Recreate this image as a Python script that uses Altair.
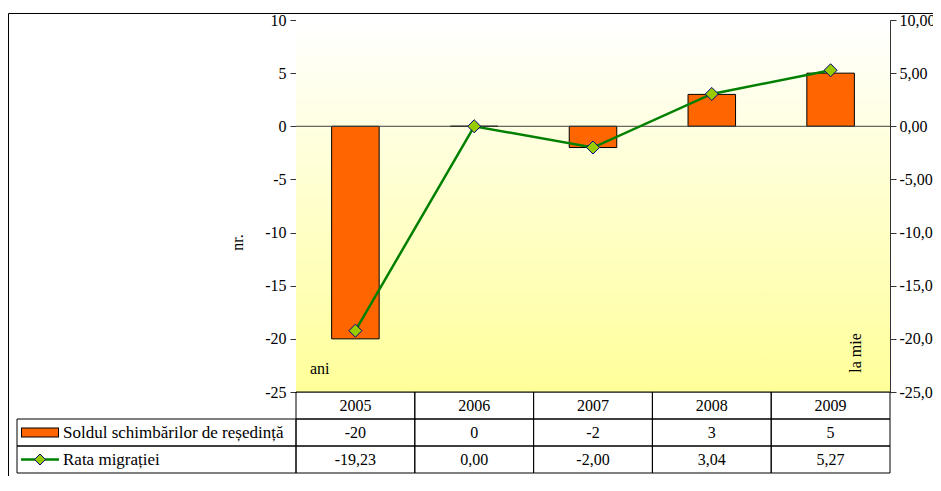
import altair as alt
import pandas as pd

# ---- data ----
years = ["2005", "2006", "2007", "2008", "2009"]
sold = [-20, 0, -2, 3, 5]
rata = [-19.23, 0.00, -2.00, 3.04, 5.27]
series_names = ["Soldul schimbărilor de reședință", "Rata migrației"]
left_ticks = [-25, -20, -15, -10, -5, 0, 5, 10]
y_title_left = "nr."
x_title = "ani"
y_title_right = "la mie"

FONT = "'Liberation Serif', 'Times New Roman', serif"
FS = 16
W, H = 594, 372
ROWS = ["r0", "r1", "r2"]
TAB_TOP, TAB_BOT = H, H + 81

df = pd.DataFrame({"year": years, "sold": sold, "rata": rata})

tab_rows = []
for y, s, r in zip(years, sold, rata):
    tab_rows.append({"year": y, "row": "r0", "label": y})
    tab_rows.append({"year": y, "row": "r1", "label": str(s)})
    tab_rows.append({"year": y, "row": "r2", "label": f"{r:.2f}".replace(".", ",")})
tdf = pd.DataFrame(tab_rows)

ldf = pd.DataFrame({"row": ["r1", "r2"], "label": series_names})

xscale = alt.Scale(domain=years, paddingInner=0, paddingOuter=0)


def row_y():
    return alt.Y("row:N", scale=alt.Scale(domain=ROWS, range=[TAB_TOP, TAB_BOT],
                                          paddingInner=0, paddingOuter=0), axis=None)


one = alt.Data(values=[{}])

bg = alt.Chart(one).mark_rect(
    color=alt.LinearGradient(
        gradient="linear",
        stops=[alt.GradientStop(color="#FFFFFF", offset=0),
               alt.GradientStop(color="#FFFF99", offset=1)],
        x1=0, x2=0, y1=0, y2=1)
).encode(x=alt.value(0), x2=alt.value(W), y=alt.value(0), y2=alt.value(H))

frame = alt.Chart(one).mark_rect(filled=False, stroke="black", strokeWidth=1).encode(
    x=alt.value(-287.5), x2=alt.value(800), y=alt.value(-6.5), y2=alt.value(700))

bars = alt.Chart(df).mark_bar(color="#FF6600", stroke="black", strokeWidth=1,
                              width=alt.RelativeBandSize(0.4)).encode(
    x=alt.X("year:N", scale=xscale, axis=None),
    y=alt.Y("sold:Q", scale=alt.Scale(domain=[-25, 10], nice=False, zero=False),
            axis=alt.Axis(values=left_ticks, title=y_title_left, grid=False,
                          labelExpr="toString(datum.value)",
                          labelFont=FONT, labelFontSize=FS, labelColor="black",
                          labelPadding=4, tickSize=6, tickColor="#333", domainColor="#333",
                          titleFont=FONT, titleFontSize=FS, titleFontWeight="normal",
                          titleColor="black", titleX=-59, titleY=222,
                          titleAlign="center", titleBaseline="middle")),
)
zero = alt.Chart(one).mark_rule(color="#404040", strokeWidth=1).encode(y=alt.datum(0))
left = alt.layer(bars, zero)

line = alt.Chart(df).mark_line(color="#008000", strokeWidth=2.5).encode(
    x=alt.X("year:N", scale=xscale, axis=None),
    y=alt.Y("rata:Q", scale=alt.Scale(domain=[-25, 10], nice=False, zero=False),
            axis=alt.Axis(orient="right", values=left_ticks, title=None, grid=False,
                          labelExpr="datum.value + ',00'",
                          labelFont=FONT, labelFontSize=FS, labelColor="black",
                          labelPadding=3, tickSize=6, tickColor="#333", domainColor="#333")),
)
pts = alt.Chart(df).mark_point(shape="diamond", filled=True, fill="#99CC00", stroke="#000080",
                               strokeWidth=1, size=170, opacity=1).encode(
    x=alt.X("year:N", scale=xscale, axis=None),
    y=alt.Y("rata:Q", scale=alt.Scale(domain=[-25, 10], nice=False, zero=False)),
)
right = alt.layer(line, pts)

cells = alt.Chart(tdf).mark_rect(filled=False, stroke="black", strokeWidth=1).encode(
    x=alt.X("year:N", scale=xscale, axis=None), y=row_y())
cell_txt = alt.Chart(tdf).mark_text(font=FONT, fontSize=FS, color="black").encode(
    x=alt.X("year:N", scale=xscale, axis=None), y=row_y(), text="label:N")

lcells = alt.Chart(ldf).mark_rect(filled=False, stroke="black", strokeWidth=1).encode(
    x=alt.value(-279), x2=alt.value(0), y=row_y())
ltxt = alt.Chart(ldf).mark_text(font=FONT, fontSize=17, color="black", align="left").encode(
    x=alt.value(-233), y=row_y(), text="label:N")

ldf1 = ldf[ldf.row == "r1"]
ldf2 = ldf[ldf.row == "r2"]
sym_o1 = alt.Chart(ldf1).mark_rule(color="black", strokeWidth=10).encode(
    x=alt.value(-275), x2=alt.value(-237), y=row_y())
sym_o2 = alt.Chart(ldf1).mark_rule(color="#FF6600", strokeWidth=8).encode(
    x=alt.value(-274), x2=alt.value(-238), y=row_y())
sym_l = alt.Chart(ldf2).mark_rule(color="#008000", strokeWidth=2.5).encode(
    x=alt.value(-275), x2=alt.value(-237), y=row_y())
sym_p = alt.Chart(ldf2).mark_point(shape="diamond", filled=True, fill="#99CC00", stroke="#000080",
                                   strokeWidth=1, size=120, opacity=1).encode(
    x=alt.value(-256), y=row_y())

ani = alt.Chart(one).mark_text(text=x_title, font=FONT, fontSize=FS, color="black",
                               align="left", baseline="middle").encode(
    x=alt.value(14), y=alt.value(349))
lamie = alt.Chart(one).mark_text(text=y_title_right, font=FONT, fontSize=FS, color="black",
                                 angle=270, align="center", baseline="middle").encode(
    x=alt.value(560), y=alt.value(333))

chart = alt.layer(
    bg, frame, left, right, cells, cell_txt, lcells, ltxt, sym_o1, sym_o2, sym_l, sym_p, ani, lamie
).resolve_scale(y="independent").properties(
    width=W, height=H,
    autosize=alt.AutoSizeParams(type="none"),
    padding={"left": 288, "top": 12, "right": 43, "bottom": 84},
).configure_view(stroke="#999999")

chart.save("out.html", embed_options={"renderer": "svg", "actions": False})
